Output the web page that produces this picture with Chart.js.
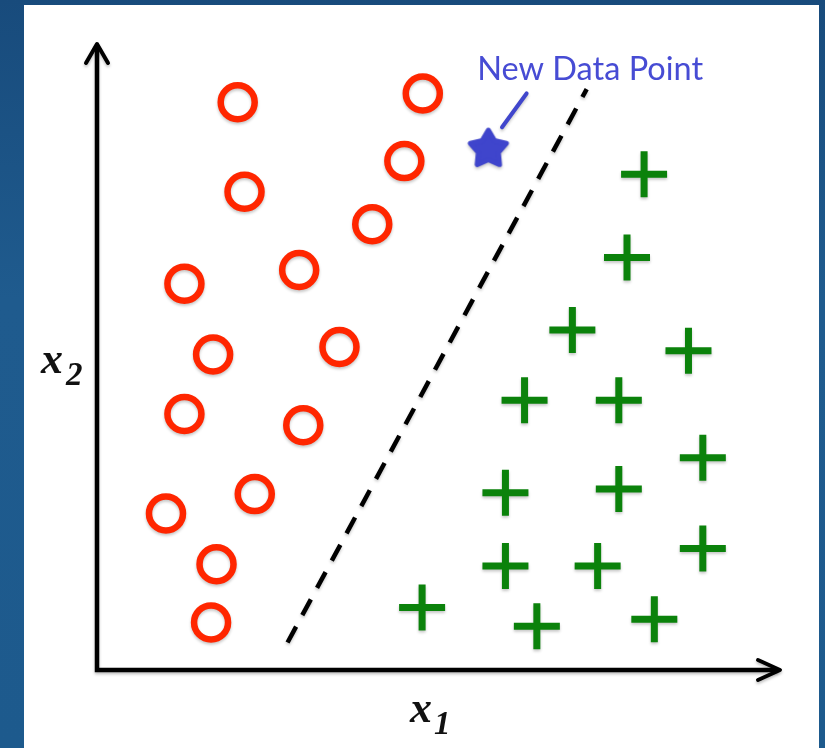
<!DOCTYPE html>
<html lang="en">
<head>
    <meta charset="UTF-8">
    <title>New Data Point</title>
    <script src="https://cdn.jsdelivr.net/npm/chart.js"></script>
    <style>
        body {
            margin: 0;
            width: 825px;
            height: 748px;
            overflow: hidden;
            position: relative;
            background: linear-gradient(180deg, #184b7c 0%, #1f5b8e 40%, #1d5a8d 100%);
        }
        #panel {
            position: absolute;
            left: 24px;
            top: 5px;
            width: 795px;
            height: 743px;
            background: #fff;
        }
        #chart {
            position: absolute;
            left: 0;
            top: 0;
        }
    </style>
</head>
<body>
    <div id="panel"></div>
    <canvas id="chart" width="825" height="748"></canvas>

    <script>
        // class "o" points (x1, x2)
        var redX = [2.06, 4.77, 4.50, 2.16, 4.03, 1.28, 2.96, 1.70, 3.55, 1.28, 3.02, 2.31, 1.01, 1.75, 1.67];
        var redY = [9.07, 9.21, 8.13, 7.64, 7.12, 6.17, 6.39, 5.04, 5.16, 4.09, 3.91, 2.81, 2.50, 1.69, 0.76];

        // class "+" points
        var greenX = [8.01, 7.76, 6.96, 8.66, 6.26, 7.64, 8.87, 5.98, 7.64, 8.87, 5.98, 7.33, 4.76, 6.44, 8.16];
        var greenY = [7.92, 6.59, 5.43, 5.10, 4.31, 4.31, 3.39, 2.83, 2.89, 1.94, 1.66, 1.66, 1.00, 0.70, 0.81];

        // the new point, its pointer and label
        var newPoint = [5.73, 8.32];
        var pointerX = [6.29, 5.93];
        var pointerY = [9.21, 8.67];
        var labelPos = [7.22, 9.43];
        var labelText = "New Data Point";

        // separating line (dashed)
        var boundaryX = [2.79, 7.17];
        var boundaryY = [0.44, 9.28];

        var axisNames = ["x", "1", "x", "2"];

        function pairs(xs, ys) {
            return xs.map((x, i) => ({ x: x, y: ys[i] }));
        }

        // filled 5-point star used as the point style
        function makeStar(R, r, color) {
            var s = Math.ceil(2 * R + 8);
            var c = document.createElement("canvas");
            c.width = s;
            c.height = s;
            var g = c.getContext("2d");
            g.translate(s / 2, s / 2);
            g.beginPath();
            for (var i = 0; i < 10; i++) {
                var rad = (i % 2 === 0) ? R : r;
                var ang = -Math.PI / 2 + i * Math.PI / 5;
                g.lineTo(rad * Math.cos(ang), rad * Math.sin(ang));
            }
            g.closePath();
            g.fillStyle = color;
            g.strokeStyle = color;
            g.lineWidth = 5;
            g.lineJoin = "round";
            g.fill();
            g.stroke();
            return c;
        }

        var decor = {
            id: "decor",
            beforeDatasetsDraw: function (chart) {
                var ctx = chart.ctx, a = chart.chartArea;
                ctx.save();
                ctx.shadowColor = "rgba(0,0,0,0.25)";
                ctx.shadowBlur = 3;
                ctx.shadowOffsetY = 2;
                ctx.strokeStyle = "#000";
                ctx.lineWidth = 4.5;
                ctx.lineJoin = "miter";
                ctx.beginPath();
                ctx.moveTo(a.left, a.top + 2);
                ctx.lineTo(a.left, a.bottom);
                ctx.lineTo(a.right - 2, a.bottom);
                ctx.stroke();

                // arrow heads
                ctx.lineWidth = 4;
                ctx.lineCap = "round";
                ctx.lineJoin = "round";
                ctx.beginPath();
                ctx.moveTo(a.left - 11, a.top + 19);
                ctx.lineTo(a.left, a.top);
                ctx.lineTo(a.left + 11, a.top + 19);
                ctx.moveTo(a.right - 22, a.bottom - 10);
                ctx.lineTo(a.right, a.bottom);
                ctx.lineTo(a.right - 22, a.bottom + 10);
                ctx.stroke();
                ctx.restore();

                ctx.save();
                ctx.shadowColor = "rgba(0,0,0,0.22)";
                ctx.shadowBlur = 3;
                ctx.shadowOffsetY = 2;
            },
            afterDatasetsDraw: function (chart) {
                chart.ctx.restore();
            },
            afterDraw: function (chart) {
                var ctx = chart.ctx, xs = chart.scales.x, ys = chart.scales.y;
                ctx.save();

                // label of the new point
                ctx.fillStyle = "#474cd4";
                ctx.font = "100px Lato";
                var w = ctx.measureText(labelText).width;
                ctx.font = (100 * 226 / w).toFixed(1) + "px Lato";
                ctx.textAlign = "center";
                ctx.textBaseline = "alphabetic";
                ctx.fillText(labelText, xs.getPixelForValue(labelPos[0]), ys.getPixelForValue(labelPos[1]));

                // axis names with subscripts
                ctx.fillStyle = "#111";
                ctx.textAlign = "left";
                ctx.font = "bold italic 44px 'Liberation Serif'";
                ctx.fillText(axisNames[0], 410, 722);
                ctx.fillText(axisNames[2], 41, 373);
                ctx.font = "bold italic 33px 'Liberation Serif'";
                ctx.fillText(axisNames[1], 434, 734);
                ctx.fillText(axisNames[3], 66, 385);
                ctx.restore();
            }
        };

        var ctx = document.getElementById("chart").getContext("2d");

        new Chart(ctx, {
            type: "scatter",
            data: {
                datasets: [
                    {
                        label: "boundary",
                        data: pairs(boundaryX, boundaryY),
                        showLine: true,
                        borderColor: "#000",
                        borderWidth: 4.5,
                        borderDash: [18, 13],
                        pointRadius: 0
                    },
                    {
                        label: "pointer",
                        data: pairs(pointerX, pointerY),
                        showLine: true,
                        borderColor: "#4046cc",
                        borderWidth: 4,
                        borderCapStyle: "round",
                        pointRadius: 0
                    },
                    {
                        label: "o",
                        data: pairs(redX, redY),
                        pointStyle: "circle",
                        pointRadius: 17,
                        borderWidth: 6.5,
                        borderColor: "#ff2600",
                        backgroundColor: "rgba(0,0,0,0)"
                    },
                    {
                        label: "+",
                        data: pairs(greenX, greenY),
                        pointStyle: "cross",
                        pointRadius: 23,
                        borderWidth: 7,
                        borderColor: "#0b820b"
                    },
                    {
                        label: labelText,
                        data: [{ x: newPoint[0], y: newPoint[1] }],
                        pointStyle: makeStar(19, 10.5, "#3f45cc"),
                        pointRadius: 20
                    }
                ]
            },
            options: {
                responsive: false,
                animation: false,
                events: [],
                layout: { padding: { left: 97, top: 44, right: 45, bottom: 78 } },
                scales: {
                    x: { type: "linear", min: 0, max: 10, display: false },
                    y: { type: "linear", min: 0, max: 10, display: false }
                },
                plugins: {
                    legend: { display: false },
                    tooltip: { enabled: false }
                }
            },
            plugins: [decor]
        });
    </script>
</body>
</html>
